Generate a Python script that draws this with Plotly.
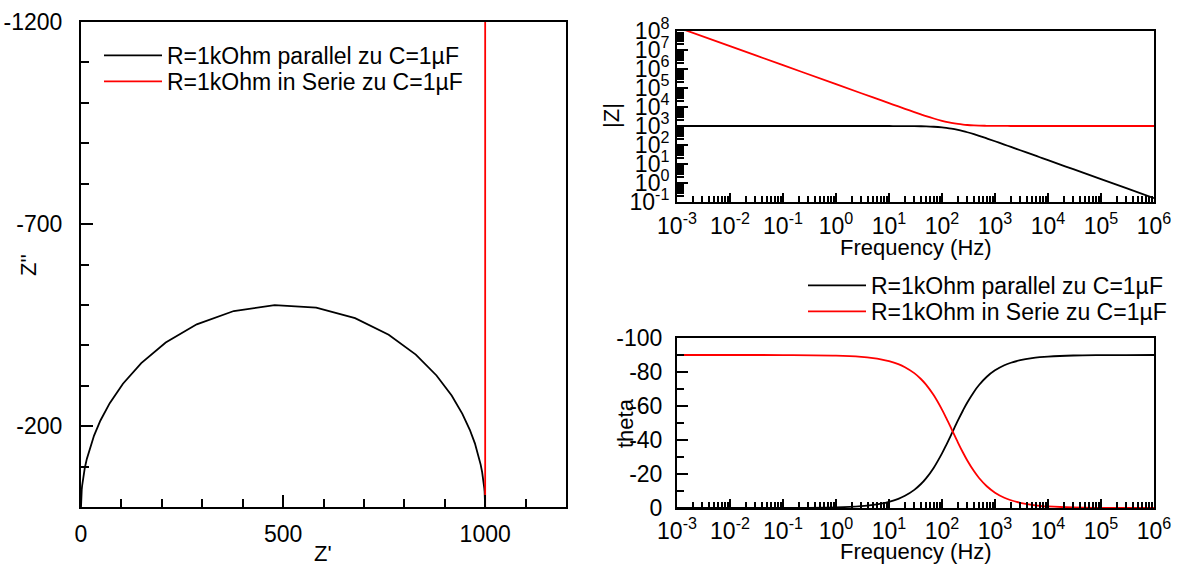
import plotly.graph_objects as go

# ---------------- data ----------------
# Nyquist (vertices of the polyline)
nyq_par_re = [1000, 1000.0, 1000.0, 999.9, 999.7, 999.4, 999.1, 998.6, 997.8, 996.7, 995.1,
              992.5, 988.7, 983.1, 974.6, 962.0, 943.6, 917.1, 879.6, 828.4, 761.3, 678.1,
              581.9, 479.1, 378.0, 286.4, 209.6, 149.1, 103.8, 71.1, 48.1, 32.3, 21.6, 14.4,
              9.5, 6.3, 4.2, 2.8, 1.8, 1.2, 0.8, 0.35, 0.10, 0.013, 0.0016, 0.0]
nyq_par_im = [-0.006, -0.4, -3.1, -8.9, -16.5, -25.0, -30.7, -37.8, -46.5, -57.1, -70.2,
              -86.1, -105.5, -129.1, -157.4, -191.1, -230.6, -275.7, -325.4, -377.1, -426.3, -467.2,
              -493.3, -499.6, -484.9, -452.1, -407.0, -356.2, -304.9, -256.9, -214.0, -176.8, -145.3, -119.0,
              -97.2, -79.3, -64.6, -52.6, -42.8, -34.8, -28.3, -18.7, -10.0, -3.6, -1.3, -0.16]
nyq_ser_re = [1000, 1000, 1000, 1000, 1000, 1000, 1000, 1000, 1000]
nyq_ser_im = [-1.59e8, -1.59e7, -1.59e6, -159155, -1592, -159.2, -15.9, -1.59, -0.159]

# Bode data
freq = [0.001, 0.01, 0.1, 1, 3, 5, 7, 10, 15, 20, 30, 40, 50, 70, 100, 120, 150, 200, 250,
        300, 400, 500, 700, 1000, 1500, 2000, 3000, 5000, 7000, 1e4, 3e4, 1e5, 3e5, 1e6]
zabs_par = [1000, 1000, 1000, 1000, 999.8, 999.5, 999.0, 998.0, 995.6, 992.2, 982.8, 969.8,
            954.1, 914.5, 846.8, 798.5, 727.8, 622.8, 537.0, 468.8, 369.7, 303.3, 221.8,
            157.2, 105.5, 79.3, 53.0, 31.8, 22.7, 15.9, 5.31, 1.59, 0.531, 0.159]
zabs_ser = [1.5915e8, 1.5915e7, 1.5915e6, 159158, 53061, 31847, 22758, 15947, 10657, 8020,
            5398, 4103, 3336, 2484, 1880, 1661, 1458, 1278, 1185, 1132, 1076, 1049, 1026,
            1013, 1006, 1003, 1001, 1001, 1000, 1000, 1000, 1000, 1000, 1000]
theta_par = [-0.0004, -0.004, -0.04, -0.36, -1.08, -1.80, -2.52, -3.60, -5.38, -7.17, -10.67,
             -14.11, -17.44, -23.74, -32.14, -37.02, -43.30, -51.49, -57.52, -62.05, -68.30,
             -72.34, -77.19, -80.96, -83.94, -85.45, -86.96, -88.18, -88.70, -89.09, -89.70,
             -89.91, -89.97, -89.99]
theta_ser = [-89.9996, -89.996, -89.96, -89.64, -88.92, -88.20, -87.48, -86.40, -84.62, -82.83,
             -79.33, -75.89, -72.56, -66.26, -57.86, -52.98, -46.70, -38.51, -32.48, -27.95,
             -21.70, -17.66, -12.81, -9.04, -6.06, -4.55, -3.04, -1.82, -1.30, -0.91, -0.30,
             -0.09, -0.03, -0.01]

name_par = "R=1kOhm parallel zu C=1µF"
name_ser = "R=1kOhm in Serie zu C=1µF"

# tick labels
nyq_x_ticks = [0, 500, 1000]
nyq_x_labels = ["0", "500", "1000"]
nyq_y_ticks = [-1200, -700, -200]
nyq_y_labels = ["-1200", "-700", "-200"]
freq_exps = [-3, -2, -1, 0, 1, 2, 3, 4, 5, 6]
zabs_exps = [-1, 0, 1, 2, 3, 4, 5, 6, 7, 8]
theta_ticks = [-100, -80, -60, -40, -20, 0]
theta_labels = ["-100", "-80", "-60", "-40", "-20", "0"]

# ---------------- figure ----------------
W, H = 1178, 570
FONT = "Arial, Liberation Sans, sans-serif"
FS = 23
FS_TITLE = 22
FS_LEG = 23
BLACK = "#000000"
RED = "#ff0000"
LW = 1.8


def px(v):
    return v / W


def py(v):
    return 1 - v / H


fig = go.Figure()

fig.add_trace(go.Scatter(x=nyq_par_re, y=nyq_par_im, mode="lines", name=name_par,
                         line=dict(color=BLACK, width=LW), xaxis="x", yaxis="y", legend="legend"))
fig.add_trace(go.Scatter(x=nyq_ser_re, y=nyq_ser_im, mode="lines", name=name_ser,
                         line=dict(color=RED, width=LW), xaxis="x", yaxis="y", legend="legend3"))

fig.add_trace(go.Scatter(x=freq, y=zabs_par, mode="lines", name=name_par, showlegend=False,
                         line=dict(color=BLACK, width=LW, shape="spline"), xaxis="x2", yaxis="y2"))
fig.add_trace(go.Scatter(x=freq, y=zabs_ser, mode="lines", name=name_ser, showlegend=False,
                         line=dict(color=RED, width=LW, shape="spline"), xaxis="x2", yaxis="y2"))

fig.add_trace(go.Scatter(x=freq, y=theta_par, mode="lines", name=name_par,
                         line=dict(color=BLACK, width=LW, shape="spline"), xaxis="x3", yaxis="y3",
                         legend="legend2"))
fig.add_trace(go.Scatter(x=freq, y=theta_ser, mode="lines", name=name_ser,
                         line=dict(color=RED, width=LW, shape="spline"), xaxis="x3", yaxis="y3",
                         legend="legend4"))

axis_common = dict(showline=True, linecolor=BLACK, linewidth=2, mirror=True, ticks="inside",
                   tickcolor=BLACK, tickwidth=2, showgrid=False, zeroline=False,
                   automargin=False,
                   tickfont=dict(family=FONT, size=FS, color=BLACK))

dec_minor = [m * 10 ** e for e in range(-3, 6) for m in range(2, 10)]
dec_minor_y = [m * 10 ** e for e in range(-1, 8) for m in range(2, 10)]


def leg(xp, yp):
    return dict(x=px(xp), y=py(yp), xanchor="left", yanchor="top", bgcolor="rgba(0,0,0,0)",
                font=dict(family=FONT, size=FS_LEG, color=BLACK), itemwidth=58,
                tracegroupgap=0)


fig.update_layout(
    template="none",
    width=W, height=H, margin=dict(l=0, r=0, t=0, b=0, pad=0, autoexpand=False),
    paper_bgcolor="white", plot_bgcolor="white",
    font=dict(family=FONT, size=FS, color=BLACK),
    xaxis=dict(axis_common, domain=[px(81), px(566)], range=[0, 1200], anchor="y",
               tickmode="array", tickvals=nyq_x_ticks, ticktext=nyq_x_labels, ticklen=12,
               ticklabelstandoff=5,
               minor=dict(tickmode="array", tickvals=list(range(100, 1200, 100)), ticklen=8,
                          tickwidth=2, tickcolor=BLACK, ticks="inside")),
    yaxis=dict(axis_common, domain=[py(507), py(22)], range=[0, -1200], anchor="x",
               tickmode="array", tickvals=nyq_y_ticks, ticktext=nyq_y_labels, ticklen=12,
               ticklabelstandoff=12,
               minor=dict(tickmode="array", tickvals=list(range(-1100, 0, 100)), ticklen=8,
                          tickwidth=2, tickcolor=BLACK, ticks="inside")),
    xaxis2=dict(axis_common, type="log", domain=[px(677), px(1154)], range=[-3, 6], anchor="y2",
                tickmode="array", tickvals=[10 ** e for e in freq_exps],
                ticktext=["10<sup>%d</sup>" % e for e in freq_exps], ticklen=9,
                ticklabelstandoff=2,
                minor=dict(tickmode="array", tickvals=dec_minor, ticklen=6, tickwidth=1.5,
                           tickcolor=BLACK, ticks="inside")),
    yaxis2=dict(axis_common, type="log", domain=[py(202), py(31)], range=[-1, 8], anchor="x2",
                tickmode="array", tickvals=[10 ** e for e in zabs_exps],
                ticktext=["10<sup>%d</sup>" % e for e in zabs_exps], ticklen=11,
                ticklabelstandoff=1,
                minor=dict(tickmode="array", tickvals=dec_minor_y, ticklen=7, tickwidth=1.5,
                           tickcolor=BLACK, ticks="inside")),
    xaxis3=dict(axis_common, type="log", domain=[px(677), px(1154)], range=[-3, 6], anchor="y3",
                tickmode="array", tickvals=[10 ** e for e in freq_exps],
                ticktext=["10<sup>%d</sup>" % e for e in freq_exps], ticklen=9,
                ticklabelstandoff=1,
                minor=dict(tickmode="array", tickvals=dec_minor, ticklen=6, tickwidth=1.5,
                           tickcolor=BLACK, ticks="inside")),
    yaxis3=dict(axis_common, domain=[py(508), py(338)], range=[0, -100], anchor="x3",
                tickmode="array", tickvals=theta_ticks, ticktext=theta_labels, ticklen=11,
                ticklabelstandoff=8,
                minor=dict(tickmode="array", tickvals=[-90, -70, -50, -30, -10], ticklen=7,
                           tickwidth=2, tickcolor=BLACK, ticks="inside")),
    legend=leg(99, 34),
    legend3=leg(99, 60),
    legend2=leg(803, 264),
    legend4=leg(803, 290),
)

# axis titles
titles = [
    dict(text="Z'", x=px(323), y=py(553), textangle=0),
    dict(text="Z''", x=px(28), y=py(265), textangle=-90),
    dict(text="|Z|", x=px(612), y=py(116), textangle=-90),
    dict(text="Frequency (Hz)", x=px(916), y=py(247), textangle=0),
    dict(text="Frequency (Hz)", x=px(916), y=py(551), textangle=0),
    dict(text="theta", x=px(625), y=py(423), textangle=-90),
]
for t in titles:
    fig.add_annotation(text=t["text"], x=t["x"], y=t["y"], xref="paper", yref="paper",
                       showarrow=False, textangle=t["textangle"], xanchor="center",
                       yanchor="middle", font=dict(family=FONT, size=FS_TITLE, color=BLACK))

fig.write_html("out.html")
